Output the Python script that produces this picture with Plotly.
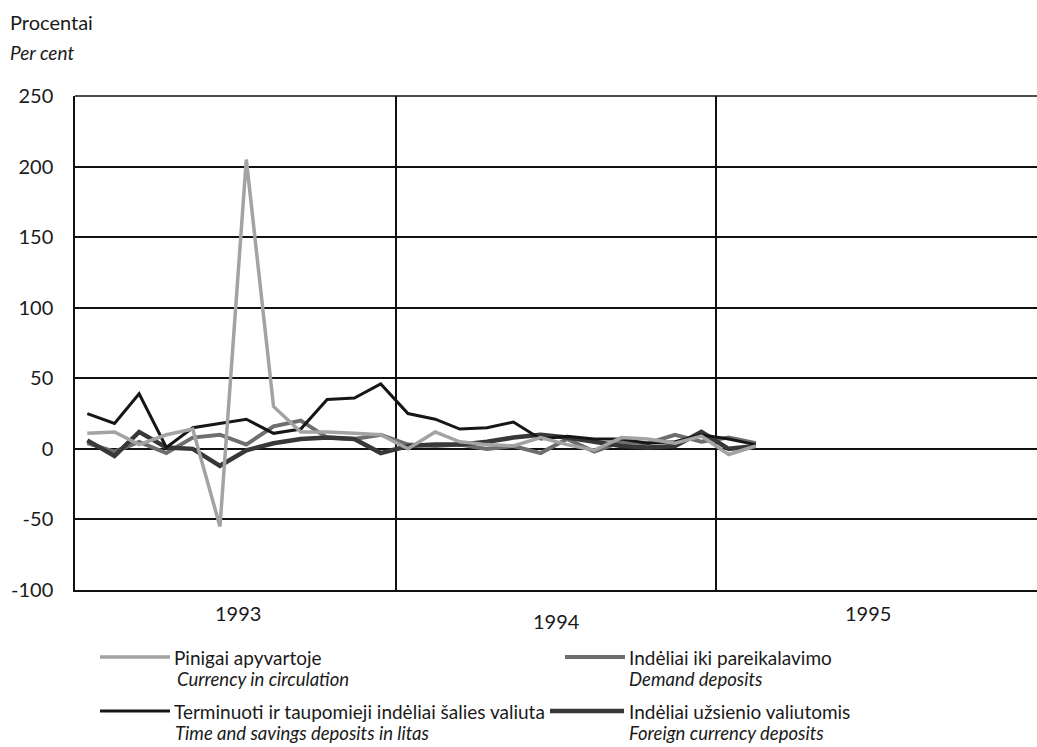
import plotly.graph_objects as go
import pandas as pd

# monthly observations, Jan 1993 - Feb 1995 (plotted mid-month)
months = pd.date_range("1993-01-01", periods=26, freq="MS") + pd.Timedelta(days=14)

currency = [11, 12, 3, 10, 14, -55, 205, 30, 12, 12, 11, 10, 0,
            12, 5, 3, 2, 8, 3, -1, 8, 7, 4, 9, -4, 2]
demand = [4, -2, 5, -3, 8, 10, 3, 16, 20, 8, 7, 10, 3,
          2, 3, 0, 2, -3, 7, -2, 5, 4, 10, 5, 8, 4]
time_savings = [25, 18, 39, 1, 15, 18, 21, 11, 14, 35, 36, 46, 25,
                21, 14, 15, 19, 7, 9, 7, 7, 4, 5, 10, 7, 3]
foreign = [6, -5, 12, 1, 0, -12, -1, 4, 7, 8, 7, -3, 2,
           3, 3, 5, 8, 10, 8, 5, 2, 1, 2, 12, 0, 2]

y_ticks = [-100, -50, 0, 50, 100, 150, 200, 250]
year_labels = ["1993", "1994", "1995"]
year_mid = ["1993-07-01", "1994-07-01", "1995-07-01"]

names_lt = ["Pinigai apyvartoje", "Indėliai iki pareikalavimo",
            "Terminuoti ir taupomieji indėliai šalies valiuta",
            "Indėliai užsienio valiutomis"]
names_en = ["Currency in circulation", "Demand deposits",
            "Time and savings deposits in litas", "Foreign currency deposits"]

colors = ["#a3a3a3", "#6e6e6e", "#161616", "#383838"]
widths = [3.5, 4, 3, 4.5]

FONT = "Lato"
W, H = 1037, 747
L, T, B = 75, 96, 157
PW, PH = W - L, H - T - B


def px(x):
    return (x - L) / PW


def py(y):
    return (H - B - y) / PH


fig = go.Figure()

series = [demand, foreign, time_savings, currency]
idx = [1, 3, 2, 0]
for vals, i in zip(series, idx):
    fig.add_trace(go.Scatter(
        x=months, y=vals, mode="lines", name=names_en[i],
        line=dict(color=colors[i], width=widths[i]),
        showlegend=False,
    ))

fig.update_layout(
    width=W, height=H,
    margin=dict(l=L, r=0, t=T, b=B),
    paper_bgcolor="white", plot_bgcolor="white",
    font=dict(family=FONT, size=20, color="#1a1a1a"),
    xaxis=dict(
        range=["1993-01-01", "1996-01-01"],
        tickmode="array",
        tickvals=["1994-01-01", "1995-01-01"],
        showticklabels=False,
        showgrid=True, gridcolor="#111", gridwidth=1.5,
        showline=True, linecolor="#111", linewidth=1.5,
        zeroline=False, ticks="",
    ),
    yaxis=dict(
        range=[-100, 250],
        tickmode="array", tickvals=y_ticks, ticktext=[str(v) for v in y_ticks],
        showgrid=True, gridcolor="#111", gridwidth=1.5,
        zeroline=True, zerolinecolor="#111", zerolinewidth=1.5,
        showline=True, linecolor="#111", linewidth=1.5,
        ticks="", ticklabelstandoff=16,
        tickfont=dict(size=20),
    ),
)

# top border of the plot
fig.add_shape(type="line", xref="paper", yref="paper", x0=0, x1=1, y0=1, y1=1,
              line=dict(color="#111", width=1.5))

# year labels
shifts = [(4, 0), (2, -8), (-7, 0)]
for lab, mid, (xs, ys) in zip(year_labels, year_mid, shifts):
    fig.add_annotation(x=mid, y=py(613), xref="x", yref="paper", text=lab,
                       showarrow=False, xshift=xs, yshift=ys,
                       font=dict(size=20), xanchor="center", yanchor="middle")

# axis title
fig.add_annotation(x=px(8), y=py(22), xref="paper", yref="paper", text="Procentai",
                   showarrow=False, xanchor="left", yanchor="middle", font=dict(size=20))
fig.add_annotation(x=px(8), y=py(52), xref="paper", yref="paper", text="<i>Per cent</i>",
                   showarrow=False, xanchor="left", yanchor="middle", font=dict(size=19))

# legend drawn by hand: (sample x0, x1, text x, row y, italic offset)
leg_pos = [(100, 170, 172, 657, 3), (565, 625, 627, 657, 0),
           (100, 170, 172, 711, 1), (550, 624, 627, 711, 0)]
for i, (x0, x1, tx, ty, off) in enumerate(leg_pos):
    fig.add_shape(type="line", xref="paper", yref="paper",
                  x0=px(x0), x1=px(x1), y0=py(ty), y1=py(ty),
                  line=dict(color=colors[i], width=widths[i]))
    fig.add_annotation(x=px(tx), y=py(ty), xref="paper", yref="paper", text=names_lt[i],
                       showarrow=False, xanchor="left", yanchor="middle",
                       font=dict(size=19))
    fig.add_annotation(x=px(tx + off), y=py(ty + 22), xref="paper", yref="paper",
                       text="<i>" + names_en[i] + "</i>",
                       showarrow=False, xanchor="left", yanchor="middle",
                       font=dict(size=18.5))

fig.write_html("out.html", config={"displayModeBar": False},
               post_script="document.body.style.margin='0px';")
